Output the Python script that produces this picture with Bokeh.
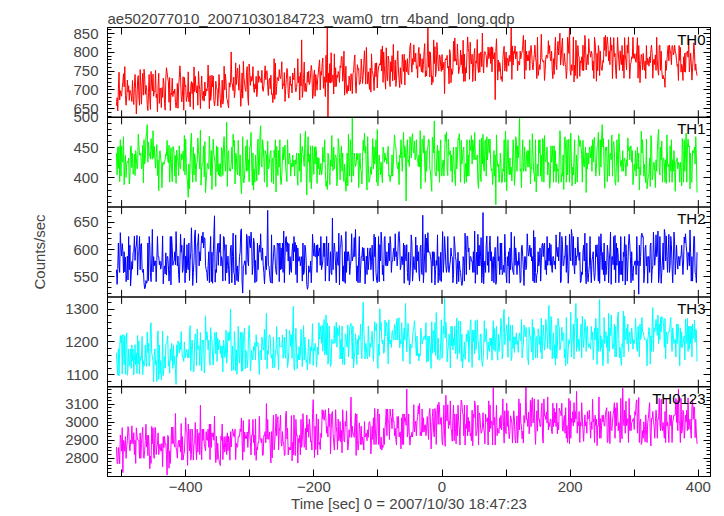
import math
import numpy as np
from bokeh.plotting import figure
from bokeh.models import (Range1d, LinearAxis, SingleIntervalTicker, FixedTicker, Label,
                          Span, ColumnDataSource, CustomJSTickFormatter)
from bokeh.embed import file_html
from bokeh.resources import INLINE

TITLE = "ae502077010_20071030184723_wam0_trn_4band_long.qdp"
X_LABEL = "Time [sec] 0 = 2007/10/30 18:47:23"
Y_LABEL = "Counts/sec"
T_START = -508          # time of first bin (s)
T_STEP = 1              # bin width (s)
X_RANGE = (-522, 419)

BANDS = ["TH0", "TH1", "TH2", "TH3", "TH0123"]
COLORS = ["#ff0000", "#00ff00", "#0000ff", "#00ffff", "#ff00ff"]
Y_RANGES = [(627, 866), (352, 500), (513, 678), (1063, 1338), (2698, 3198)]
Y_TICKS = [[650, 700, 750, 800, 850], [400, 450, 500], [550, 600, 650],
           [1100, 1200, 1300], [2800, 2900, 3000, 3100]]
Y_MINOR_STEP = [10, 10, 10, 20, 20]

TH0 = [
    658, 679, 644, 703, 747, 673, 698, 689, 683, 707, 721, 743, 708, 762, 684, 659, 681, 726, 694, 711,
    672, 699, 694, 684, 669, 725, 681, 661, 710, 741, 703, 636, 675, 726, 738, 681, 659, 754, 711, 662,
    716, 744, 686, 755, 737, 688, 712, 706, 661, 645, 693, 741, 676, 648, 749, 713, 697, 742, 683, 696,
    695, 752, 679, 689, 642, 715, 744, 664, 705, 699, 653, 706, 680, 731, 718, 664, 646, 729, 759, 745,
    732, 721, 667, 733, 645, 691, 687, 731, 682, 697, 690, 702, 666, 652, 668, 717, 651, 708, 732, 764,
    734, 683, 668, 689, 735, 646, 733, 709, 713, 669, 679, 684, 748, 668, 694, 655, 710, 722, 690, 719,
    648, 761, 695, 736, 705, 692, 711, 659, 749, 715, 700, 650, 702, 737, 685, 672, 696, 670, 721, 684,
    703, 697, 704, 766, 707, 650, 738, 672, 687, 739, 708, 737, 673, 657, 672, 723, 706, 702, 657, 688,
    741, 710, 675, 653, 676, 726, 662, 676, 763, 700, 742, 720, 677, 674, 661, 652, 719, 707, 720, 801,
    719, 713, 698, 734, 679, 694, 772, 714, 744, 758, 723, 699, 767, 703, 656, 690, 745, 678, 776, 732,
    716, 701, 696, 747, 762, 681, 659, 769, 746, 712, 736, 723, 727, 762, 706, 693, 716, 703, 736, 682,
    700, 751, 720, 736, 730, 726, 719, 752, 701, 696, 711, 737, 764, 727, 749, 751, 709, 685, 726, 731,
    703, 739, 688, 690, 666, 689, 783, 675, 771, 687, 709, 733, 729, 724, 754, 734, 730, 742, 775, 702,
    716, 712, 746, 669, 703, 727, 757, 747, 691, 678, 711, 736, 712, 715, 692, 745, 732, 727, 758, 705,
    695, 706, 721, 783, 719, 736, 673, 746, 710, 833, 680, 697, 730, 774, 696, 717, 695, 710, 747, 720,
    750, 714, 720, 744, 765, 751, 677, 686, 740, 753, 683, 741, 724, 699, 730, 745, 765, 780, 700, 749,
    739, 770, 785, 704, 735, 719, 682, 792, 720, 866, 628, 745, 719, 770, 718, 799, 720, 735, 740, 689,
    796, 708, 759, 709, 739, 733, 749, 743, 720, 764, 759, 788, 789, 723, 740, 803, 686, 718, 763, 693,
    690, 712, 697, 737, 724, 697, 743, 736, 690, 744, 747, 778, 793, 713, 691, 734, 767, 754, 757, 714,
    716, 727, 782, 751, 717, 738, 771, 804, 761, 715, 813, 750, 716, 748, 717, 701, 758, 694, 796, 751,
    745, 732, 698, 751, 771, 735, 772, 705, 744, 761, 765, 770, 766, 808, 750, 817, 720, 801, 765, 731,
    702, 812, 739, 724, 790, 779, 725, 709, 775, 749, 791, 724, 821, 750, 726, 779, 709, 725, 776, 804,
    753, 728, 706, 759, 727, 715, 794, 774, 749, 795, 713, 779, 764, 748, 783, 743, 740, 780, 816, 825,
    773, 747, 783, 767, 820, 777, 774, 798, 757, 764, 732, 798, 813, 762, 796, 763, 748, 783, 746, 768,
    801, 823, 735, 750, 737, 786, 866, 760, 802, 734, 800, 761, 713, 736, 720, 833, 770, 815, 735, 749,
    826, 804, 763, 750, 793, 789, 762, 749, 794, 753, 759, 774, 690, 779, 783, 780, 792, 758, 763, 716,
    807, 796, 719, 756, 741, 752, 829, 776, 838, 777, 782, 766, 822, 786, 743, 755, 762, 806, 767, 793,
    744, 832, 722, 795, 723, 759, 745, 796, 841, 810, 799, 728, 827, 779, 769, 795, 722, 760, 794, 810,
    724, 777, 771, 834, 761, 746, 797, 747, 798, 801, 762, 851, 771, 745, 797, 802, 796, 791, 760, 772,
    814, 783, 789, 813, 770, 815, 748, 813, 782, 790, 799, 674, 802, 836, 783, 726, 779, 749, 773, 763,
    728, 736, 722, 781, 805, 816, 750, 765, 801, 749, 785, 782, 764, 792, 775, 781, 866, 728, 817, 766,
    802, 797, 817, 782, 795, 802, 751, 776, 772, 766, 803, 783, 796, 801, 818, 845, 792, 729, 833, 752,
    803, 777, 793, 778, 804, 752, 802, 818, 797, 767, 753, 773, 794, 819, 786, 774, 730, 840, 738, 751,
    767, 754, 787, 848, 783, 777, 774, 778, 725, 752, 786, 793, 784, 787, 831, 797, 818, 782, 777, 803,
    752, 730, 783, 741, 803, 840, 767, 754, 804, 829, 793, 818, 851, 766, 784, 819, 838, 767, 764, 797,
    773, 767, 730, 752, 840, 824, 797, 866, 752, 739, 767, 751, 754, 841, 721, 766, 738, 832, 793, 730,
    818, 793, 787, 736, 777, 772, 788, 752, 819, 751, 783, 845, 818, 753, 778, 794, 767, 836, 803, 798,
    787, 803, 796, 752, 777, 730, 840, 825, 793, 723, 797, 751, 818, 804, 738, 803, 767, 753, 752, 778,
    773, 840, 805, 845, 789, 822, 841, 818, 777, 803, 767, 840, 804, 819, 730, 788, 839, 788, 797, 752,
    730, 783, 840, 803, 777, 752, 804, 778, 767, 818, 751, 793, 731, 839, 794, 777, 753, 819, 798, 841,
    783, 730, 767, 773, 788, 784, 840, 786, 783, 796, 777, 773, 807, 839, 731, 818, 778, 719, 768, 794,
    787, 753, 797, 768, 752, 777, 730, 818, 767, 784, 778, 763, 788, 772, 807, 819, 797, 731, 777, 782,
    767, 793, 752, 840, 777, 751, 739, 818, 819, 752, 803, 751, 730, 739, 729, 731, 707, 778, 752, 777,
    803, 818, 777, 819, 804, 797, 767, 818, 817, 793, 798, 819, 803, 796, 778, 763, 768, 725, 818, 778,
    813, 747, 768, 762, 725, 788, 748, 798, 747, 799, 797, 803, 787, 835, 748, 769, 798, 772, 726, 759,
    782, 825, 803, 752, 769, 748, 738,
]

TH1 = [
    441, 405, 451, 416, 452, 394, 463, 403, 453, 430, 426, 468, 389, 418, 437, 401, 424, 427, 425, 433,
    390, 402, 451, 453, 417, 441, 406, 410, 439, 404, 445, 433, 415, 416, 472, 453, 438, 437, 441, 415,
    418, 454, 392, 463, 423, 433, 466, 475, 488, 426, 459, 437, 440, 431, 465, 446, 431, 478, 433, 452,
    433, 416, 440, 455, 404, 430, 379, 439, 445, 433, 424, 384, 425, 426, 422, 427, 431, 440, 437, 462,
    430, 425, 454, 393, 424, 450, 415, 394, 452, 451, 439, 403, 437, 391, 446, 433, 429, 404, 453, 419,
    415, 440, 430, 433, 444, 411, 470, 405, 464, 424, 402, 392, 368, 423, 382, 425, 461, 474, 416, 393,
    451, 405, 440, 431, 394, 423, 426, 466, 445, 433, 415, 479, 388, 417, 424, 426, 453, 402, 460, 376,
    394, 411, 424, 418, 415, 469, 438, 404, 445, 381, 425, 464, 438, 433, 423, 386, 453, 410, 451, 405,
    423, 403, 424, 402, 450, 445, 404, 453, 468, 430, 411, 431, 492, 386, 441, 445, 412, 415, 411, 422,
    451, 415, 472, 452, 462, 390, 441, 438, 411, 405, 462, 437, 403, 438, 394, 374, 405, 468, 395, 392,
    405, 426, 453, 411, 463, 412, 430, 394, 452, 452, 475, 423, 388, 441, 380, 415, 393, 438, 418, 395,
    451, 464, 405, 418, 470, 486, 423, 418, 463, 452, 431, 393, 445, 441, 438, 385, 461, 415, 418, 431,
    441, 445, 393, 430, 433, 390, 446, 433, 463, 377, 452, 415, 404, 445, 418, 463, 396, 389, 405, 433,
    451, 430, 441, 454, 419, 405, 394, 463, 426, 423, 441, 430, 403, 424, 418, 438, 419, 429, 403, 430,
    423, 441, 405, 388, 441, 438, 411, 473, 393, 442, 452, 441, 430, 419, 464, 477, 415, 372, 433, 468,
    426, 439, 393, 453, 382, 403, 453, 433, 406, 451, 423, 452, 445, 391, 434, 415, 433, 405, 411, 424,
    405, 411, 451, 430, 426, 463, 411, 386, 395, 381, 441, 438, 403, 389, 430, 419, 470, 423, 412, 451,
    415, 433, 438, 433, 387, 403, 465, 453, 433, 397, 434, 453, 411, 441, 405, 394, 423, 403, 378, 391,
    441, 387, 472, 423, 403, 463, 441, 393, 500, 405, 403, 441, 430, 419, 423, 441, 430, 440, 384, 418,
    441, 415, 411, 390, 433, 462, 445, 474, 441, 452, 403, 380, 468, 423, 393, 396, 405, 418, 406, 433,
    465, 415, 451, 423, 433, 463, 393, 480, 387, 403, 438, 425, 405, 426, 406, 392, 451, 445, 426, 441,
    430, 433, 423, 441, 452, 403, 405, 394, 404, 403, 438, 403, 423, 451, 471, 453, 451, 430, 419, 415,
    426, 389, 438, 433, 463, 437, 411, 445, 475, 434, 453, 442, 362, 441, 463, 426, 430, 419, 468, 460,
    433, 466, 473, 445, 441, 461, 430, 434, 463, 433, 430, 419, 438, 418, 478, 382, 426, 464, 463, 441,
    470, 423, 393, 445, 411, 445, 451, 464, 462, 415, 411, 393, 378, 467, 463, 441, 494, 411, 405, 403,
    441, 454, 411, 445, 393, 441, 463, 403, 405, 426, 430, 403, 430, 472, 460, 476, 415, 404, 464, 438,
    441, 445, 411, 438, 393, 430, 451, 415, 404, 387, 451, 415, 433, 465, 463, 473, 438, 393, 462, 423,
    433, 446, 451, 391, 411, 424, 393, 463, 403, 438, 403, 463, 452, 445, 470, 423, 463, 451, 430, 475,
    433, 430, 433, 438, 393, 383, 426, 463, 403, 394, 466, 423, 472, 415, 411, 461, 463, 403, 468, 430,
    451, 464, 441, 464, 423, 412, 415, 389, 411, 445, 403, 438, 356, 471, 430, 419, 423, 393, 406, 441,
    423, 392, 393, 415, 411, 463, 393, 477, 453, 379, 433, 463, 418, 405, 433, 406, 418, 395, 423, 463,
    441, 388, 405, 468, 463, 411, 453, 433, 453, 500, 411, 415, 384, 433, 463, 411, 415, 451, 415, 411,
    441, 445, 418, 445, 418, 463, 390, 418, 415, 473, 438, 411, 405, 394, 463, 377, 403, 423, 403, 463,
    441, 463, 403, 438, 394, 465, 463, 393, 470, 430, 426, 437, 451, 405, 426, 423, 383, 393, 453, 426,
    433, 453, 393, 453, 411, 445, 393, 423, 412, 415, 391, 433, 478, 463, 393, 406, 403, 438, 381, 460,
    468, 445, 393, 463, 405, 451, 464, 393, 438, 474, 423, 387, 418, 405, 433, 463, 390, 411, 438, 393,
    426, 470, 463, 452, 462, 451, 438, 393, 462, 423, 418, 438, 451, 376, 441, 415, 441, 423, 451, 445,
    433, 453, 411, 463, 426, 463, 467, 430, 403, 416, 451, 453, 475, 415, 404, 463, 418, 464, 488, 451,
    465, 415, 383, 451, 445, 451, 394, 426, 463, 403, 438, 441, 430, 471, 403, 453, 460, 445, 393, 388,
    418, 463, 430, 393, 473, 451, 430, 419, 429, 411, 445, 411, 430, 433, 423, 403, 430, 419, 466, 445,
    451, 430, 451, 453, 426, 445, 389, 403, 423, 412, 445, 403, 430, 451, 415, 441, 380, 418, 405, 477,
    441, 463, 433, 403, 423, 403, 392, 464, 382, 395, 403, 405, 433, 386, 470, 462, 397, 403, 423, 426,
    411, 384, 430, 411, 445, 468, 480, 418, 405, 451, 430, 461, 393, 430, 433, 423, 393, 430, 391, 471,
    423, 418, 423, 393, 453, 411, 463, 393, 430, 411, 445, 418, 378, 426, 430, 433, 415, 426, 423, 393,
    426, 415, 387, 465, 445, 393, 463, 411, 445, 474, 393, 451, 464, 451, 453, 382, 441, 396, 393, 445,
    441, 445, 451, 423, 468, 433, 376,
]

TH2 = [
    563, 536, 565, 612, 571, 558, 631, 603, 588, 611, 597, 557, 596, 559, 586, 541, 554, 588, 544, 624,
    563, 608, 533, 554, 578, 564, 595, 596, 625, 580, 603, 607, 626, 553, 594, 597, 624, 563, 609, 611,
    563, 558, 564, 539, 528, 530, 543, 538, 541, 612, 543, 624, 609, 558, 541, 579, 637, 559, 587, 570,
    579, 579, 541, 580, 624, 587, 587, 572, 579, 564, 570, 579, 625, 537, 562, 570, 555, 594, 553, 587,
    587, 570, 542, 563, 624, 535, 624, 604, 571, 578, 579, 596, 572, 633, 595, 570, 588, 554, 539, 578,
    628, 595, 608, 558, 563, 603, 621, 539, 588, 557, 609, 570, 563, 612, 543, 580, 595, 640, 595, 534,
    558, 579, 627, 636, 571, 539, 608, 612, 629, 570, 596, 579, 608, 625, 612, 632, 603, 622, 620, 571,
    563, 558, 543, 570, 596, 539, 597, 624, 541, 595, 538, 587, 627, 662, 540, 563, 558, 596, 611, 571,
    612, 595, 628, 570, 587, 579, 542, 624, 623, 595, 543, 609, 557, 571, 588, 563, 537, 571, 604, 608,
    539, 587, 630, 558, 554, 535, 627, 571, 543, 570, 541, 559, 587, 595, 635, 638, 542, 520, 570, 571,
    579, 579, 554, 628, 624, 579, 570, 625, 609, 603, 632, 612, 554, 571, 621, 612, 539, 580, 541, 542,
    612, 563, 595, 608, 595, 629, 587, 580, 603, 571, 558, 537, 563, 588, 563, 595, 672, 571, 570, 555,
    542, 539, 627, 538, 571, 588, 608, 603, 571, 558, 554, 612, 609, 611, 541, 612, 563, 603, 564, 612,
    558, 634, 539, 587, 621, 624, 596, 613, 579, 611, 554, 587, 563, 558, 596, 611, 579, 624, 596, 613,
    554, 608, 539, 603, 579, 579, 587, 570, 579, 587, 542, 612, 554, 558, 608, 603, 579, 536, 527, 532,
    570, 563, 558, 579, 539, 571, 628, 603, 588, 612, 587, 587, 608, 558, 609, 588, 596, 603, 571, 624,
    563, 570, 579, 612, 587, 612, 542, 579, 624, 570, 587, 612, 542, 570, 596, 557, 554, 658, 563, 595,
    612, 595, 570, 539, 596, 579, 571, 630, 535, 603, 608, 626, 612, 542, 570, 541, 596, 538, 633, 558,
    596, 579, 596, 587, 554, 571, 579, 629, 579, 587, 587, 622, 587, 637, 579, 542, 570, 539, 587, 624,
    539, 563, 587, 587, 604, 579, 603, 586, 537, 571, 588, 554, 603, 563, 580, 596, 603, 563, 578, 608,
    570, 542, 628, 587, 623, 558, 543, 539, 563, 624, 541, 609, 579, 632, 612, 554, 571, 542, 621, 624,
    571, 570, 596, 570, 579, 612, 579, 624, 609, 558, 579, 579, 596, 603, 579, 629, 587, 596, 570, 587,
    626, 633, 612, 563, 570, 587, 587, 572, 612, 538, 608, 587, 579, 609, 558, 543, 595, 535, 542, 579,
    627, 612, 542, 559, 587, 570, 563, 623, 558, 608, 579, 596, 557, 542, 603, 608, 558, 554, 663, 539,
    563, 595, 628, 558, 621, 595, 631, 595, 596, 595, 587, 579, 539, 596, 570, 596, 595, 535, 563, 580,
    571, 627, 539, 587, 558, 543, 595, 541, 587, 633, 558, 579, 624, 603, 571, 558, 571, 624, 563, 558,
    570, 579, 603, 588, 587, 539, 554, 624, 609, 587, 579, 537, 563, 595, 541, 579, 564, 558, 543, 534,
    539, 587, 579, 542, 630, 595, 554, 625, 624, 596, 603, 563, 587, 587, 579, 579, 558, 596, 558, 634,
    538, 571, 595, 554, 628, 570, 608, 570, 587, 622, 539, 554, 668, 537, 570, 579, 558, 608, 625, 571,
    596, 558, 608, 625, 579, 596, 542, 579, 587, 539, 587, 604, 536, 542, 596, 624, 579, 587, 554, 612,
    563, 612, 554, 558, 571, 558, 628, 587, 554, 539, 587, 570, 596, 538, 603, 563, 632, 579, 564, 558,
    554, 624, 571, 603, 588, 554, 579, 571, 595, 572, 539, 542, 603, 608, 587, 563, 534, 587, 587, 563,
    570, 629, 603, 588, 595, 608, 587, 603, 579, 587, 542, 635, 539, 623, 558, 539, 554, 558, 596, 570,
    579, 603, 542, 579, 608, 612, 587, 608, 612, 563, 580, 554, 624, 571, 603, 579, 612, 571, 609, 570,
    558, 587, 587, 572, 579, 564, 627, 595, 587, 604, 579, 612, 632, 539, 542, 624, 609, 570, 571, 588,
    587, 625, 558, 608, 579, 538, 563, 628, 587, 579, 637, 624, 571, 624, 570, 555, 603, 571, 588, 587,
    623, 595, 580, 595, 539, 542, 559, 554, 595, 608, 579, 630, 558, 537, 612, 554, 541, 558, 571, 624,
    570, 539, 579, 587, 596, 558, 543, 557, 608, 587, 609, 570, 542, 624, 538, 587, 629, 595, 563, 595,
    554, 612, 542, 579, 554, 571, 608, 595, 539, 579, 596, 632, 536, 587, 587, 572, 624, 563, 626, 539,
    612, 571, 603, 588, 539, 579, 554, 624, 554, 579, 542, 595, 587, 624, 535, 609, 587, 542, 570, 608,
    628, 612, 587, 539, 596, 558, 543, 570, 571, 579, 579, 554, 624, 571, 579, 518, 608, 570, 587, 625,
    630, 623, 624, 539, 554, 603, 608, 570, 587, 538, 587, 587, 558, 608, 612, 539, 563, 570, 632, 595,
    571, 588, 627, 587, 596, 634, 539, 554, 624, 579, 538, 558, 579, 612, 563, 637, 629, 579, 625, 587,
    558, 596, 628, 558, 571, 624, 609, 570, 539, 579, 632, 612, 554, 579, 608, 579, 564, 587, 587, 570,
    587, 587, 608, 579, 554, 579, 623, 612, 629, 608, 595, 563, 595, 587, 570, 636, 595, 542, 587, 542,
    579, 624, 624, 558, 554, 539, 595,
]

TH3 = [
    1167, 1126, 1099, 1179, 1096, 1178, 1220, 1197, 1219, 1102, 1223, 1190, 1131, 1220, 1101, 1192, 1228, 1098, 1119, 1179,
    1126, 1131, 1179, 1119, 1191, 1143, 1178, 1099, 1144, 1192, 1130, 1166, 1103, 1220, 1132, 1203, 1101, 1155, 1143, 1154,
    1217, 1099, 1143, 1126, 1131, 1191, 1144, 1125, 1230, 1167, 1196, 1126, 1142, 1242, 1259, 1167, 1155, 1143, 1078, 1155,
    1179, 1131, 1143, 1079, 1223, 1234, 1085, 1191, 1102, 1143, 1083, 1106, 1234, 1097, 1119, 1155, 1120, 1191, 1196, 1203,
    1219, 1126, 1143, 1104, 1179, 1143, 1196, 1168, 1119, 1191, 1131, 1156, 1119, 1070, 1191, 1155, 1203, 1196, 1167, 1197,
    1176, 1232, 1176, 1153, 1152, 1140, 1200, 1151, 1164, 1177, 1165, 1152, 1177, 1151, 1229, 1250, 1111, 1176, 1206, 1176,
    1108, 1111, 1200, 1225, 1212, 1128, 1240, 1176, 1188, 1188, 1128, 1229, 1164, 1111, 1206, 1200, 1205, 1105, 1128, 1280,
    1205, 1232, 1219, 1176, 1205, 1152, 1129, 1244, 1212, 1206, 1152, 1129, 1176, 1228, 1229, 1164, 1230, 1140, 1212, 1176,
    1200, 1205, 1164, 1188, 1152, 1188, 1108, 1205, 1188, 1152, 1164, 1236, 1135, 1164, 1229, 1204, 1230, 1205, 1301, 1164,
    1111, 1188, 1140, 1114, 1232, 1200, 1111, 1176, 1101, 1140, 1248, 1164, 1135, 1205, 1230, 1110, 1229, 1111, 1200, 1229,
    1242, 1118, 1174, 1162, 1121, 1146, 1215, 1250, 1210, 1111, 1138, 1174, 1151, 1145, 1186, 1174, 1198, 1145, 1222, 1186,
    1198, 1198, 1145, 1100, 1174, 1174, 1145, 1215, 1198, 1175, 1186, 1238, 1145, 1216, 1288, 1118, 1174, 1162, 1215, 1222,
    1215, 1162, 1150, 1162, 1120, 1215, 1145, 1122, 1174, 1174, 1247, 1162, 1162, 1115, 1215, 1186, 1186, 1186, 1186, 1222,
    1150, 1162, 1215, 1162, 1150, 1240, 1186, 1122, 1138, 1174, 1235, 1222, 1186, 1222, 1150, 1239, 1309, 1121, 1113, 1198,
    1242, 1174, 1118, 1162, 1145, 1186, 1145, 1162, 1239, 1186, 1124, 1198, 1250, 1145, 1215, 1174, 1138, 1145, 1114, 1174,
    1208, 1155, 1132, 1184, 1172, 1197, 1256, 1128, 1184, 1172, 1196, 1184, 1123, 1148, 1184, 1161, 1259, 1208, 1249, 1226,
    1196, 1252, 1172, 1225, 1269, 1160, 1172, 1283, 1160, 1258, 1132, 1148, 1249, 1184, 1125, 1131, 1208, 1196, 1196, 1196,
    1249, 1196, 1225, 1260, 1184, 1243, 1220, 1225, 1250, 1148, 1208, 1148, 1249, 1131, 1184, 1161, 1130, 1225, 1220, 1196,
    1184, 1252, 1155, 1184, 1246, 1249, 1257, 1220, 1148, 1249, 1121, 1148, 1173, 1225, 1196, 1131, 1208, 1160, 1220, 1208,
    1208, 1254, 1172, 1149, 1248, 1322, 1240, 1196, 1148, 1196, 1184, 1155, 1148, 1249, 1208, 1155, 1196, 1184, 1208, 1233,
    1182, 1141, 1194, 1262, 1242, 1235, 1256, 1138, 1119, 1194, 1158, 1302, 1235, 1260, 1206, 1194, 1206, 1165, 1170, 1267,
    1218, 1259, 1259, 1218, 1133, 1268, 1206, 1194, 1206, 1183, 1230, 1235, 1206, 1206, 1254, 1242, 1206, 1262, 1272, 1206,
    1262, 1274, 1182, 1207, 1194, 1259, 1218, 1141, 1218, 1243, 1206, 1318, 1230, 1170, 1218, 1257, 1230, 1194, 1132, 1194,
    1182, 1182, 1207, 1235, 1242, 1265, 1235, 1194, 1158, 1218, 1158, 1165, 1142, 1164, 1158, 1242, 1219, 1194, 1206, 1206,
    1218, 1218, 1206, 1259, 1138, 1141, 1218, 1141, 1218, 1195, 1182, 1119, 1262, 1165, 1235, 1230, 1170, 1259, 1158, 1290,
    1236, 1147, 1212, 1147, 1144, 1147, 1200, 1268, 1150, 1164, 1248, 1225, 1334, 1212, 1261, 1236, 1139, 1176, 1188, 1224,
    1212, 1120, 1248, 1188, 1248, 1176, 1212, 1189, 1248, 1164, 1171, 1273, 1147, 1224, 1265, 1164, 1200, 1264, 1141, 1224,
    1120, 1150, 1164, 1200, 1147, 1172, 1224, 1200, 1224, 1236, 1138, 1212, 1248, 1268, 1188, 1122, 1236, 1200, 1236, 1164,
    1265, 1176, 1200, 1268, 1212, 1189, 1144, 1164, 1224, 1224, 1144, 1125, 1140, 1176, 1265, 1200, 1212, 1241, 1200, 1147,
    1200, 1177, 1171, 1212, 1188, 1212, 1144, 1212, 1265, 1176, 1241, 1171, 1212, 1248, 1164, 1144, 1224, 1171, 1200, 1224,
    1272, 1240, 1148, 1168, 1288, 1300, 1192, 1217, 1228, 1253, 1228, 1153, 1277, 1204, 1204, 1252, 1143, 1151, 1252, 1180,
    1216, 1168, 1216, 1193, 1228, 1192, 1204, 1168, 1216, 1228, 1204, 1204, 1269, 1151, 1176, 1192, 1252, 1229, 1216, 1245,
    1240, 1151, 1148, 1130, 1245, 1216, 1216, 1192, 1169, 1269, 1145, 1245, 1240, 1217, 1151, 1216, 1216, 1151, 1240, 1228,
    1192, 1217, 1168, 1272, 1148, 1204, 1252, 1216, 1175, 1192, 1269, 1246, 1216, 1180, 1291, 1312, 1192, 1175, 1278, 1269,
    1148, 1192, 1228, 1151, 1192, 1129, 1252, 1149, 1180, 1272, 1252, 1245, 1175, 1192, 1204, 1245, 1204, 1228, 1228, 1151,
    1178, 1127, 1275, 1178, 1133, 1178, 1207, 1195, 1207, 1291, 1154, 1207, 1207, 1255, 1148, 1248, 1272, 1318, 1171, 1272,
    1183, 1208, 1171, 1207, 1219, 1255, 1151, 1279, 1219, 1183, 1219, 1269, 1255, 1171, 1243, 1248, 1195, 1183, 1195, 1183,
    1178, 1248, 1207, 1231, 1146, 1183, 1243, 1207, 1272, 1231, 1131, 1243, 1171, 1231, 1330, 1171, 1219, 1183, 1208, 1127,
    1151, 1275, 1195, 1231, 1231, 1183, 1219, 1134, 1288, 1171, 1243, 1220, 1283, 1231, 1183, 1178, 1195, 1255, 1154, 1248,
    1154, 1195, 1275, 1292, 1207, 1151, 1183, 1144, 1128, 1195, 1183, 1295, 1154, 1280, 1207, 1219, 1243, 1195, 1255, 1171,
    1219, 1231, 1195, 1195, 1243, 1220, 1178, 1207, 1195, 1207, 1272, 1231, 1178, 1171, 1248, 1207, 1154, 1255, 1207, 1219,
    1275, 1231, 1231, 1219, 1207, 1207, 1207, 1207, 1127, 1207, 1219, 1244, 1231, 1132, 1219, 1171, 1255, 1305, 1171, 1243,
    1231, 1243, 1269, 1243, 1220, 1282, 1195, 1255, 1207, 1275, 1231, 1278, 1274, 1267, 1243, 1183, 1272, 1148, 1231, 1219,
    1195, 1231, 1231, 1231, 1256, 1275, 1219, 1171, 1243, 1220, 1195, 1207, 1207, 1154, 1255, 1195, 1255, 1248, 1195, 1127,
    1243, 1183, 1231, 1183, 1195, 1207, 1219, 1145, 1270, 1231, 1195, 1272, 1171, 1248, 1178, 1248, 1195, 1248, 1154, 1255,
    1211, 1211, 1267, 1199, 1240, 1235, 1140,
]

TH0123 = [
    2862, 2771, 2768, 2859, 2814, 2769, 2929, 2902, 2839, 2970, 2720, 2899, 2882, 2838, 2920, 2799, 2863, 2900, 2976, 2964,
    2878, 2841, 2899, 2881, 2980, 2901, 2879, 2942, 2820, 2900, 2771, 2969, 2926, 2902, 2899, 2901, 2800, 2940, 2799, 2881,
    2927, 2972, 2813, 2799, 2842, 2899, 2989, 2862, 2927, 2814, 2928, 2863, 2741, 2812, 2771, 2977, 2881, 2969, 2814, 2799,
    2972, 2969, 2820, 2863, 2878, 2941, 2820, 2863, 2879, 2841, 2839, 2882, 2752, 2920, 2859, 2921, 2878, 2881, 2820, 2706,
    2927, 2920, 2744, 2841, 2771, 2862, 2972, 2881, 2974, 2882, 2878, 2862, 3049, 2859, 2841, 2800, 2881, 2899, 2862, 2900,
    2834, 2993, 2789, 2920, 2791, 2820, 2835, 2920, 3026, 2948, 2941, 2760, 2990, 2902, 2841, 2962, 2789, 2820, 2962, 2921,
    2789, 2880, 2883, 2999, 2862, 2792, 2962, 2834, 2920, 2941, 2820, 3095, 2883, 2792, 2962, 2899, 2962, 2880, 2862, 2841,
    2948, 2902, 2899, 2962, 2860, 2990, 2792, 2990, 2860, 2941, 2920, 2941, 2900, 3035, 2860, 2775, 2922, 2792, 2883, 2820,
    2789, 2774, 2759, 2922, 2899, 2990, 2792, 2862, 2920, 2834, 2860, 2922, 2820, 2941, 2841, 2922, 2899, 2789, 2948, 2862,
    2920, 2963, 2948, 2922, 2920, 2961, 2792, 2883, 2860, 2862, 2920, 2922, 2920, 2963, 2948, 3024, 2899, 2789, 3009, 2834,
    2946, 2909, 2925, 2909, 2946, 2860, 2946, 3016, 2946, 2888, 2818, 2928, 2925, 3016, 2886, 2929, 2815, 3019, 2788, 2860,
    2846, 2889, 2886, 3033, 2906, 2909, 2886, 2909, 2815, 2818, 2928, 2925, 2948, 2886, 3104, 2906, 3016, 2906, 2909, 2946,
    2860, 2773, 2948, 2801, 2946, 3040, 2846, 2889, 2946, 3046, 2925, 3016, 3031, 2846, 2948, 2974, 3040, 2888, 2867, 2948,
    2886, 2888, 2815, 2818, 3040, 3062, 2906, 2967, 2818, 2861, 2846, 2860, 2846, 3037, 2785, 2888, 2818, 3040, 2925, 2815,
    3016, 2925, 2928, 2773, 2909, 2886, 2929, 2818, 3016, 2860, 2906, 3048, 2974, 2860, 2867, 2967, 2846, 3040, 2946, 2988,
    2916, 3018, 2976, 2890, 2897, 2845, 3049, 3126, 2997, 2803, 2978, 2848, 3046, 2976, 2818, 3018, 2876, 2890, 2848, 2939,
    2916, 3070, 3019, 3065, 3011, 3034, 3070, 3004, 2939, 2976, 2918, 3078, 2976, 3046, 2824, 2958, 3049, 3060, 2936, 2890,
    2845, 2936, 3070, 2976, 2939, 2848, 3018, 2897, 2918, 3004, 2890, 2955, 2830, 3070, 2997, 2897, 2890, 3004, 2978, 3064,
    2936, 2845, 2876, 2958, 2916, 2978, 3140, 2916, 2978, 2936, 2939, 2916, 2997, 3049, 2815, 3046, 2897, 2845, 2876, 2997,
    2958, 2876, 2978, 2876, 2918, 2897, 2845, 3004, 2918, 2936, 2939, 2897, 2958, 2916, 2997, 3004, 2978, 2824, 2897, 2978,
    2904, 3025, 2876, 3077, 2967, 2876, 2918, 3032, 3074, 2876, 3046, 2876, 2852, 2918, 2845, 2873, 2860, 2967, 2876, 2967,
    3004, 3074, 2925, 3074, 3004, 3006, 2904, 3074, 3032, 3025, 2964, 3074, 3004, 3006, 2925, 2967, 2904, 2873, 3032, 2967,
    3032, 2918, 2944, 2946, 2852, 3025, 2876, 3046, 2876, 3046, 3004, 3025, 2983, 3185, 2918, 2944, 3046, 2925, 2873, 2925,
    2918, 2944, 2918, 2964, 3098, 2946, 2983, 3006, 2925, 3006, 3032, 3092, 3046, 3105, 2925, 2946, 2925, 3074, 2944, 3025,
    2946, 2983, 2986, 2925, 2967, 3032, 2967, 2904, 3046, 3077, 3006, 2852, 2946, 3032, 3074, 2944, 2918, 3077, 3046, 2876,
    3046, 3098, 2988, 3112, 3085, 2988, 3025, 3027, 2897, 2873, 2985, 3095, 2925, 2866, 3150, 3025, 3007, 3098, 2965, 3007,
    2985, 3119, 2967, 2946, 2894, 3025, 3095, 2897, 3046, 2965, 2880, 3046, 2925, 3095, 3004, 2967, 2873, 3053, 3124, 3110,
    3053, 3046, 2925, 3095, 2873, 2988, 2965, 3095, 2925, 3027, 2946, 3007, 2925, 2939, 2897, 3067, 2869, 3046, 3025, 3119,
    3095, 2925, 2939, 2965, 3095, 2873, 3053, 3046, 2985, 2939, 2946, 2967, 3053, 2967, 2946, 2880, 3046, 3004, 3007, 3025,
    2873, 3119, 2946, 3095, 2965, 3007, 3004, 2873, 3193, 2985, 3027, 2873, 2985, 3095, 2925, 2967, 2946, 2939, 3025, 2967,
    3038, 2957, 3038, 3130, 2976, 2884, 3064, 2950, 2936, 3106, 2976, 3064, 2950, 2908, 2950, 3036, 3018, 2996, 2884, 2978,
    3064, 3018, 2908, 2884, 2978, 3036, 2884, 2950, 3130, 2957, 3106, 2996, 2978, 2908, 2950, 2884, 3038, 2996, 3038, 3196,
    3015, 3018, 2976, 3057, 2936, 2978, 3122, 2976, 3106, 3137, 2996, 3018, 3130, 2957, 2877, 2999, 3064, 2950, 3126, 3015,
    3018, 2976, 2978, 3064, 3106, 2908, 2884, 3130, 3036, 3038, 3015, 3057, 2996, 3141, 2957, 2999, 2976, 3018, 3015, 2950,
    2936, 3106, 2976, 3078, 2996, 3057, 2976, 3106, 2936, 2999, 2957, 3078, 3064, 3057, 3036, 3106, 2957, 2950, 3015, 3038,
    2939, 3081, 2911, 2981, 2887, 2953, 3133, 2879, 3120, 2911, 3021, 2999, 3060, 2979, 3109, 2999, 3060, 3018, 3172, 2939,
    3002, 2979, 3060, 2887, 3002, 2979, 3109, 3018, 2953, 2894, 2979, 3041, 2979, 3002, 2939, 3060, 3018, 3021, 3067, 2981,
    2911, 3002, 2960, 3128, 3002, 3018, 2887, 3039, 2981, 3018, 2870, 2981, 2979, 3141, 2911, 3021, 2911, 2981, 3039, 3002,
    3039, 2981, 2979, 3041, 3067, 3081, 2887, 2896, 3060, 3018, 2881, 3060, 2960, 2953, 2999, 3041, 3067, 3109, 2911, 3081,
    2979, 3109, 3067, 2953, 2999, 2981, 2887, 3133, 2939, 2908, 3190, 3018, 2981, 3067, 2939, 3117, 2981, 2999, 3021, 2887,
    3133, 2953, 3039, 2953, 2999, 3002, 3018, 3021, 2960, 3060, 3039, 3109, 3125, 2939, 3041, 3138, 2887, 3002, 3018, 2876,
    2887, 2953, 2911, 3002, 2960, 2891, 3041, 2960, 2887, 2999, 3021, 3067, 3109, 2939, 2868, 3021, 3018, 3060, 2999, 2981,
    2911, 3002, 3067, 3021, 2911, 3021, 3018, 3133, 2999, 2953, 3128, 2979, 2953, 2999, 2953, 2911, 3060, 2887, 3133, 2979,
    3002, 2960, 2887, 3041, 3039, 2981, 3039, 2887, 3002, 3018, 3041, 3039, 3041, 3133, 2999, 3121, 2953, 3185, 2999, 3002,
    2887, 3133, 2939, 2953, 3067, 3060, 2911, 2953, 3039, 3002, 3067, 2953, 3136, 2960, 2981, 3018, 2953, 2911, 3081, 3127,
    3016, 3087, 3084, 2914, 3016, 2935, 2880,
]

SERIES = [TH0, TH1, TH2, TH3, TH0123]

FONT = "Liberation Sans"
FS = "15px"
N = len(BANDS)

# stacked panels: panel i (0 = top) occupies [N-1-i, N-i] of the main y range
p = figure(frame_width=603, frame_height=449,
           x_range=Range1d(*X_RANGE), y_range=Range1d(0, N),
           output_backend="svg", toolbar_location=None,
           min_border_left=107, min_border_right=6, min_border_top=27, min_border_bottom=0,
           background_fill_color="white", border_fill_color="white")
p.outline_line_color = "black"
p.outline_line_width = 1
p.xgrid.visible = False
p.ygrid.visible = False

extra = {}
major_pos, major_lab, minor_pos = [], [], []
for i, (band, (lo, hi), ticks, mstep) in enumerate(zip(BANDS, Y_RANGES, Y_TICKS, Y_MINOR_STEP)):
    span = hi - lo
    extra[band] = Range1d(lo - (N - 1 - i) * span, hi + i * span)
    base = N - 1 - i
    for v in ticks:
        major_pos.append(base + (v - lo) / span)
        major_lab.append(str(v))
    v = math.ceil(lo / mstep) * mstep
    while v <= hi:
        if v not in ticks:
            minor_pos.append(base + (v - lo) / span)
        v += mstep
p.extra_y_ranges = extra

for i, (band, color, vals) in enumerate(zip(BANDS, COLORS, SERIES)):
    y = np.array(vals, dtype=float)
    t = T_START + T_STEP * np.arange(len(y))
    src = ColumnDataSource(data=dict(t=t, rate=y))
    p.line("t", "rate", source=src, y_range_name=band, line_color=color, line_width=1)


def style_axis(ax, show_labels):
    ax.axis_line_color = "black"
    ax.axis_line_width = 1
    ax.major_tick_in = 7
    ax.major_tick_out = 0
    ax.minor_tick_in = 4
    ax.minor_tick_out = 0
    ax.major_tick_line_color = "black"
    ax.minor_tick_line_color = "black"
    ax.major_label_text_font = FONT
    ax.axis_label_text_font = FONT
    ax.axis_label_text_font_size = FS
    ax.axis_label_text_font_style = "normal"
    if show_labels:
        ax.major_label_text_font_size = FS
    else:
        ax.major_label_text_font_size = "0px"
        ax.major_label_standoff = 0


y_fmt = CustomJSTickFormatter(args=dict(pos=major_pos, lab=major_lab), code="""
    for (let i = 0; i < pos.length; i++) {
        if (Math.abs(pos[i] - tick) < 1e-9) { return lab[i]; }
    }
    return "";
""")
x_fmt = CustomJSTickFormatter(code="""
    if (Math.abs(tick % 200) > 1e-6) { return ""; }
    return tick < 0 ? "\u2212" + Math.abs(tick) : String(tick);
""")

# left axis
ly = p.yaxis[0]
ly.ticker = FixedTicker(ticks=major_pos, minor_ticks=minor_pos)
ly.formatter = y_fmt
style_axis(ly, True)
ly.major_label_standoff = 9
ly.axis_label = Y_LABEL
ly.axis_label_standoff = 14

# right axis (mirrored ticks)
ry = LinearAxis(ticker=FixedTicker(ticks=major_pos, minor_ticks=minor_pos))
style_axis(ry, False)
p.add_layout(ry, "right")

# bottom axis
bx = p.xaxis[0]
bx.ticker = SingleIntervalTicker(interval=100, num_minor_ticks=0)
bx.formatter = x_fmt
style_axis(bx, True)
bx.major_label_standoff = 5
bx.axis_label = X_LABEL
bx.axis_label_standoff = 0

# top axis
tx = LinearAxis(ticker=SingleIntervalTicker(interval=100, num_minor_ticks=0))
style_axis(tx, False)
p.add_layout(tx, "above")

# panel separators and their inward x ticks
xt = np.arange(math.ceil(X_RANGE[0] / 100) * 100, X_RANGE[1] + 1, 100)
for k in range(1, N):
    p.add_layout(Span(location=k, dimension="width", line_color="black", line_width=1.5))
    p.scatter(x=xt, y=np.full(len(xt), k), marker="dash", angle=math.pi / 2, size=14,
              line_color="black", line_width=1)

for i, band in enumerate(BANDS):
    p.add_layout(Label(x=X_RANGE[1], y=N - i, text=band, text_align="right",
                       text_baseline="top", x_offset=-5, y_offset=-3,
                       text_font=FONT, text_font_size=FS, text_color="black"))

p.title.text = TITLE
p.title.text_font = FONT
p.title.text_font_size = FS
p.title.text_font_style = "normal"
p.title.align = "left"
p.title.standoff = 2

open("out.html", "w").write(file_html(p, INLINE))
